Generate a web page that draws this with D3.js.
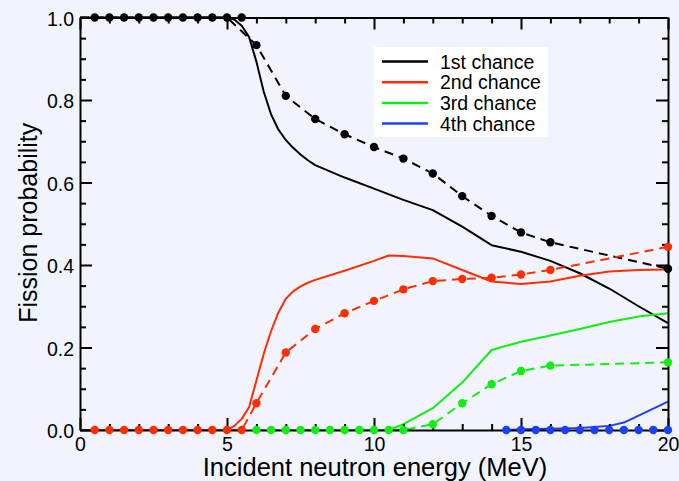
<!DOCTYPE html>
<html>
<head>
<meta charset="utf-8">
<script src="https://cdn.jsdelivr.net/npm/d3@7"></script>
<style>
  body { margin: 0; background: #f1f4fd; }
  svg { display: block; font-family: "Liberation Sans", Arial, Helvetica, sans-serif; }
  .axis .domain { stroke: #000; stroke-width: 2; }
  .axis line { stroke: #000; stroke-width: 2; }
  .axis text { font-size: 19.5px; fill: #000; }
</style>
</head>
<body>
<script>
// series: [energy (MeV), fission probability]
const firstSolid = [[0, 1], [5, 1], [5.25, 0.995], [5.5, 0.98], [5.75, 0.953], [6, 0.893], [6.25, 0.82], [6.5, 0.765], [6.75, 0.728], [7, 0.703], [7.25, 0.684], [7.5, 0.668], [7.75, 0.654], [8, 0.642], [9, 0.612], [10, 0.585], [11, 0.558], [12, 0.533], [13, 0.493], [14, 0.448], [15, 0.432], [16, 0.41], [17, 0.38], [18, 0.343], [19, 0.3], [20, 0.259]];
const secondSolid = [[0, 0], [5, 0], [5.25, 0.01], [5.5, 0.027], [5.75, 0.055], [6, 0.12], [6.25, 0.185], [6.5, 0.24], [6.75, 0.285], [7, 0.318], [7.25, 0.336], [7.5, 0.348], [7.75, 0.357], [8, 0.364], [9, 0.386], [10, 0.41], [10.5, 0.423], [11, 0.422], [12, 0.416], [13, 0.388], [14, 0.36], [15, 0.354], [16, 0.36], [17, 0.374], [18, 0.384], [19, 0.388], [20, 0.389]];
const thirdSolid = [[10.5, 0], [11, 0.014], [12, 0.053], [13, 0.115], [14, 0.194], [15, 0.214], [16, 0.229], [17, 0.245], [18, 0.262], [19, 0.275], [20, 0.283]];
const fourthSolid = [[14.5, 0], [15, 0.002], [16, 0.003], [17, 0.005], [17.5, 0.007], [18, 0.01], [18.5, 0.018], [19, 0.035], [20, 0.069]];

const firstDashed = [[0, 1], [5, 1], [6, 0.933], [7, 0.81], [8, 0.754], [9, 0.717], [10, 0.686], [11, 0.658], [12, 0.622], [13, 0.567], [14, 0.519], [15, 0.479], [16, 0.455], [17, 0.439], [18, 0.423], [19, 0.407], [20, 0.391]];
const secondDashed = [[0, 0], [5.5, 0], [6, 0.065], [7, 0.188], [8, 0.245], [9, 0.283], [10, 0.313], [11, 0.341], [12, 0.361], [13, 0.366], [14, 0.369], [15, 0.377], [16, 0.388], [17, 0.402], [18, 0.416], [19, 0.43], [20, 0.444]];
const thirdDashed = [[6, 0], [11, 0], [12, 0.014], [13, 0.065], [14, 0.111], [15, 0.143], [16, 0.156], [17, 0.158], [18, 0.16], [19, 0.162], [20, 0.164]];

const firstDots = [[0.5, 1], [1, 1], [1.5, 1], [2, 1], [2.5, 1], [3, 1], [3.5, 1], [4, 1], [4.5, 1], [5, 1], [5.5, 1], [6, 0.933], [7, 0.81], [8, 0.754], [9, 0.717], [10, 0.686], [11, 0.658], [12, 0.622], [13, 0.567], [14, 0.519], [15, 0.479], [16, 0.455], [20, 0.391]];
const secondDots = [[0.5, 0], [1, 0], [1.5, 0], [2, 0], [2.5, 0], [3, 0], [3.5, 0], [4, 0], [4.5, 0], [5, 0], [5.5, 0], [6, 0.065], [7, 0.188], [8, 0.245], [9, 0.283], [10, 0.313], [11, 0.341], [12, 0.361], [13, 0.366], [14, 0.369], [15, 0.377], [16, 0.388], [20, 0.444]];
const thirdDots = [[6, 0], [6.5, 0], [7, 0], [7.5, 0], [8, 0], [8.5, 0], [9, 0], [9.5, 0], [10, 0], [10.5, 0], [11, 0], [12, 0.014], [13, 0.065], [14, 0.111], [15, 0.143], [16, 0.156], [20, 0.164]];
const fourthDots = [[14.5, 0], [15, 0], [15.5, 0], [16, 0], [16.5, 0], [17, 0], [17.5, 0], [18, 0], [18.5, 0], [19, 0], [19.5, 0], [20, 0]];

const legendLabels = ['1st chance', '2nd chance', '3rd chance', '4th chance'];
const colors = ['#000000', '#ff2d00', '#11ee11', '#1a40ff'];

const xMajor = [0, 5, 10, 15, 20];
const yMajor = [0, 0.2, 0.4, 0.6, 0.8, 1.0];

(() => {
    const W = 679, H = 481;
    const mLeft = 80, mRight = 668, mTop = 17.5, mBottom = 430;

    const x = d3.scaleLinear().domain([0, 20]).range([mLeft, mRight]);
    const y = d3.scaleLinear().domain([0, 1]).range([mBottom, mTop]);

    const svg = d3.select('body').append('svg')
        .attr('width', W)
        .attr('height', H);

    const line = d3.line()
        .x(d => x(d[0]))
        .y(d => y(d[1]));

    const plot = svg.append('g');

    [firstSolid, secondSolid, thirdSolid, fourthSolid].forEach((s, i) => {
        plot.append('path')
            .datum(s)
            .attr('d', line)
            .attr('fill', 'none')
            .attr('stroke', colors[i])
            .attr('stroke-width', 2)
            .attr('stroke-linejoin', 'round');
    });

    [firstDashed, secondDashed, thirdDashed].forEach((s, i) => {
        plot.append('path')
            .datum(s)
            .attr('d', line)
            .attr('fill', 'none')
            .attr('stroke', colors[i])
            .attr('stroke-width', 2)
            .attr('stroke-dasharray', '9,6');
    });

    // axes: ticks point inward on all four sides
    const xMinor = d3.range(0, 21, 1).filter(v => !xMajor.includes(v));
    const yMinor = d3.range(0, 21, 1).map(v => v * 0.05)
        .filter(v => !yMajor.some(m => Math.abs(m - v) < 1e-6));

    const addAxis = (axisFn, scale, transform, major, minor, labels) => {
        const g = svg.append('g').attr('class', 'axis').attr('transform', transform);
        g.call(axisFn(scale).tickValues(minor).tickSize(-6).tickFormat(''));
        g.selectAll('.domain').remove();
        g.selectAll('text').remove();
        const gm = svg.append('g').attr('class', 'axis').attr('transform', transform);
        gm.call(axisFn(scale).tickValues(major).tickSizeInner(-12).tickSizeOuter(0).tickPadding(7)
            .tickFormat(labels ? labels : ''));
        if (!labels) gm.selectAll('text').remove();
        return gm;
    };

    addAxis(d3.axisBottom, x, `translate(0,${mBottom})`, xMajor, xMinor, d3.format('d'))
        .selectAll('text').attr('dy', '0.72em');
    addAxis(d3.axisTop, x, `translate(0,${mTop})`, xMajor, xMinor, null);
    addAxis(d3.axisLeft, y, `translate(${mLeft},0)`, yMajor, yMinor, d3.format('.1f'))
        .selectAll('text').attr('dx', 1).attr('dy', '0.4em');
    addAxis(d3.axisRight, y, `translate(${mRight},0)`, yMajor, yMinor, null);

    // markers
    [firstDots, secondDots, thirdDots, fourthDots].forEach((s, i) => {
        svg.append('g').selectAll('circle')
            .data(s)
            .enter().append('circle')
            .attr('cx', d => x(d[0]))
            .attr('cy', d => y(d[1]))
            .attr('r', 4.2)
            .attr('fill', colors[i]);
    });

    // axis titles
    svg.append('text')
        .attr('x', (mLeft + mRight) / 2 + 1)
        .attr('y', 476)
        .attr('text-anchor', 'middle')
        .style('font-size', '25.5px')
        .text('Incident neutron energy (MeV)');

    svg.append('text')
        .attr('transform', `translate(37, ${(mTop + mBottom) / 2 - 1}) rotate(-90)`)
        .attr('text-anchor', 'middle')
        .style('font-size', '25px')
        .text('Fission probability');

    // legend
    const legend = svg.append('g').attr('transform', 'translate(374, 47)');
    legend.append('rect')
        .attr('width', 174)
        .attr('height', 90)
        .attr('fill', '#fff');

    const rows = legend.selectAll('g.row')
        .data(legendLabels)
        .enter().append('g')
        .attr('class', 'row')
        .attr('transform', (d, i) => `translate(0, ${14.5 + i * 20.7})`);

    rows.append('line')
        .attr('x1', 8)
        .attr('x2', 54)
        .attr('stroke', (d, i) => colors[i])
        .attr('stroke-width', 2.5);

    rows.append('text')
        .attr('x', 66)
        .attr('dy', '0.36em')
        .style('font-size', '19.5px')
        .text(d => d);
})();
</script>
</body>
</html>
